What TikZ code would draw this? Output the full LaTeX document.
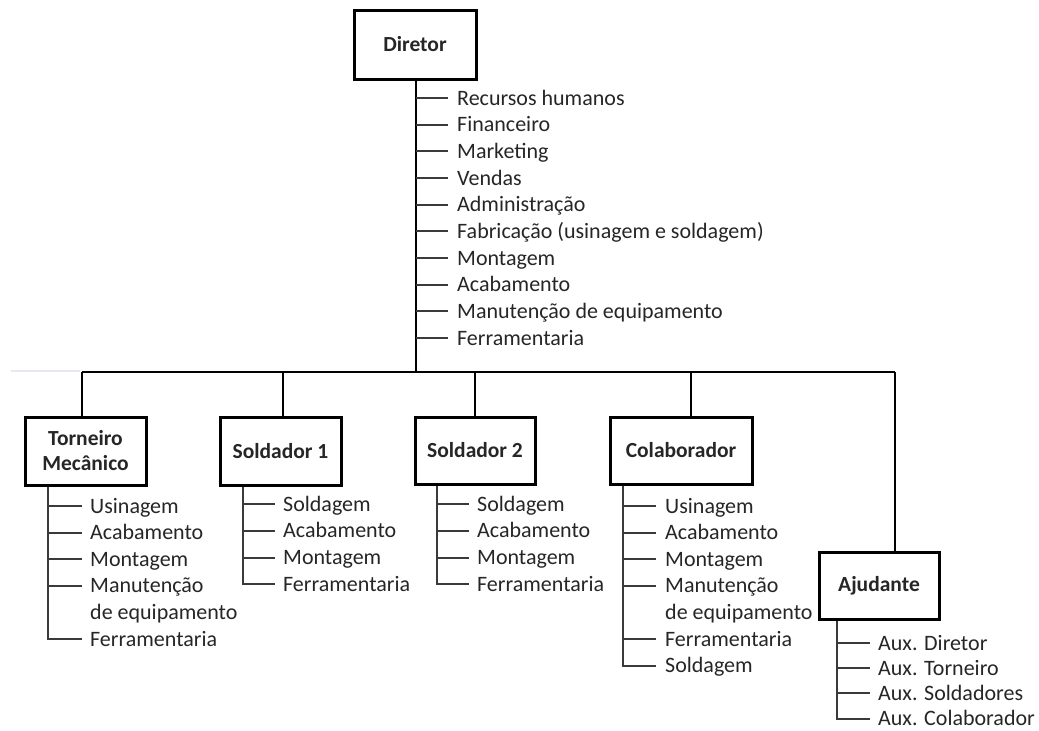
\documentclass[tikz,border=0pt]{standalone}
\usepackage{fontspec}
\setmainfont{Carlito}
\definecolor{txt}{HTML}{262626}
\definecolor{tickc}{HTML}{3A3A3A}
\definecolor{faint}{HTML}{E6E8F2}
\begin{document}
\begin{tikzpicture}[x=1pt,y=-1pt,
  box/.style={draw=black, line width=3pt, fill=white, text=txt,
    font=\bfseries\fontsize{21.5}{25}\selectfont, align=center, inner sep=0pt},
  item/.style={anchor=west, inner sep=0pt, text=txt, text height=14pt, text depth=0pt,
    font=\fontsize{22}{26}\selectfont},
  conn/.style={line width=1.5pt, draw=black},
  tick/.style={line width=2pt, draw=tickc}]
\useasboundingbox (0,0) rectangle (1039,731);

% boxes
\node[box, minimum width=122pt, minimum height=69pt] (dir) at (415,44.5) {Diretor};
\node[box, minimum width=121pt, minimum height=68pt] (tor) at (85.5,451) {Torneiro\\Mecânico};
\node[box, minimum width=121pt, minimum height=68pt] (s1) at (280.5,451) {Soldador 1};
\node[box, minimum width=120pt, minimum height=67pt] (s2) at (475,450.5) {Soldador 2};
\node[box, minimum width=142pt, minimum height=67pt] (col) at (681,450.5) {Colaborador};
\node[box, minimum width=120pt, minimum height=67pt] (aju) at (879,585.5) {Ajudante};

% bus
\coordinate (busL) at (82,372);
\coordinate (busR) at (895,372);
\coordinate (busD) at (416,372);
\coordinate (faintL) at (11,371);
\coordinate (faintR) at (80,371);
\draw[line width=1.5pt, draw=faint] (faintL) -- (faintR);
\draw[conn] (busL) -- (busR);
\draw[conn] (busL) -- (busL |- tor.north);
\draw[conn] (283,372) coordinate (b1) -- (b1 |- s1.north);
\draw[conn] (475,372) coordinate (b2) -- (b2 |- s2.north);
\draw[conn] (691,372) coordinate (b3) -- (b3 |- col.north);
\draw[conn] (busR) -- (busR |- aju.north);
\draw[conn] (busD |- dir.south) -- (busD);

% director list
\foreach \t [count=\i from 0] in {Recursos humanos, Financeiro, Marketing, Vendas, Administração, Fabricação (usinagem e soldagem), Montagem, Acabamento, Manutenção de equipamento, Ferramentaria} {
  \node[item] (d\i) at (457, 98+26.67*\i) {\t};
  \draw[tick] (d\i.west -| busD) -- ([xshift=-9pt]d\i.west);
}

% Torneiro list
\coordinate (tv) at (48,0);
\foreach \t [count=\i from 0] in {Usinagem, Acabamento, Montagem, Manutenção} {
  \node[item] (t\i) at (90, 506+26.6*\i) {\t};
  \draw[tick] (t\i.west -| tv) -- ([xshift=-8.5pt]t\i.west);
}
\node[item] (t4) at (90, 506+26.6*4) {de equipamento};
\node[item] (t5) at (90, 506+26.6*5) {Ferramentaria};
\draw[tick] (tor.south -| tv) |- ([xshift=-8.5pt]t5.west);

% Soldador 1 list
\coordinate (v1) at (243,0);
\foreach \t [count=\i from 0] in {Soldagem, Acabamento, Montagem, Ferramentaria} {
  \node[item] (a\i) at (283, 504+26.8*\i) {\t};
}
\foreach \i in {0,1,2} \draw[tick] (a\i.west -| v1) -- ([xshift=-8.5pt]a\i.west);
\draw[tick] (s1.south -| v1) |- ([xshift=-8.5pt]a3.west);

% Soldador 2 list
\coordinate (v2) at (437,0);
\foreach \t [count=\i from 0] in {Soldagem, Acabamento, Montagem, Ferramentaria} {
  \node[item] (b\i) at (477, 504+26.8*\i) {\t};
}
\foreach \i in {0,1,2} \draw[tick] (b\i.west -| v2) -- ([xshift=-8.5pt]b\i.west);
\draw[tick] (s2.south -| v2) |- ([xshift=-8.5pt]b3.west);

% Colaborador list
\coordinate (v3) at (623,0);
\foreach \t [count=\i from 0] in {Usinagem, Acabamento, Montagem, Manutenção} {
  \node[item] (c\i) at (665, 506+26.6*\i) {\t};
  \draw[tick] (c\i.west -| v3) -- ([xshift=-9pt]c\i.west);
}
\node[item] (c4) at (665, 506+26.6*4) {de equipamento};
\node[item] (c5) at (665, 506+26.6*5) {Ferramentaria};
\node[item] (c6) at (665, 506+26.6*6) {Soldagem};
\draw[tick] (c5.west -| v3) -- ([xshift=-9pt]c5.west);
\draw[tick] (col.south -| v3) |- ([xshift=-9pt]c6.west);

% Ajudante list
\coordinate (v4) at (837,0);
\foreach \t [count=\i from 0] in {Aux. Diretor, Aux. Torneiro, Aux. Soldadores, Aux. Colaborador} {
  \node[item] (j\i) at (878, 643+25.2*\i) {\t};
}
\foreach \i in {0,1,2} \draw[tick] (j\i.west -| v4) -- ([xshift=-8.5pt]j\i.west);
\draw[tick] (aju.south -| v4) |- ([xshift=-8.5pt]j3.west);
\end{tikzpicture}
\end{document}
